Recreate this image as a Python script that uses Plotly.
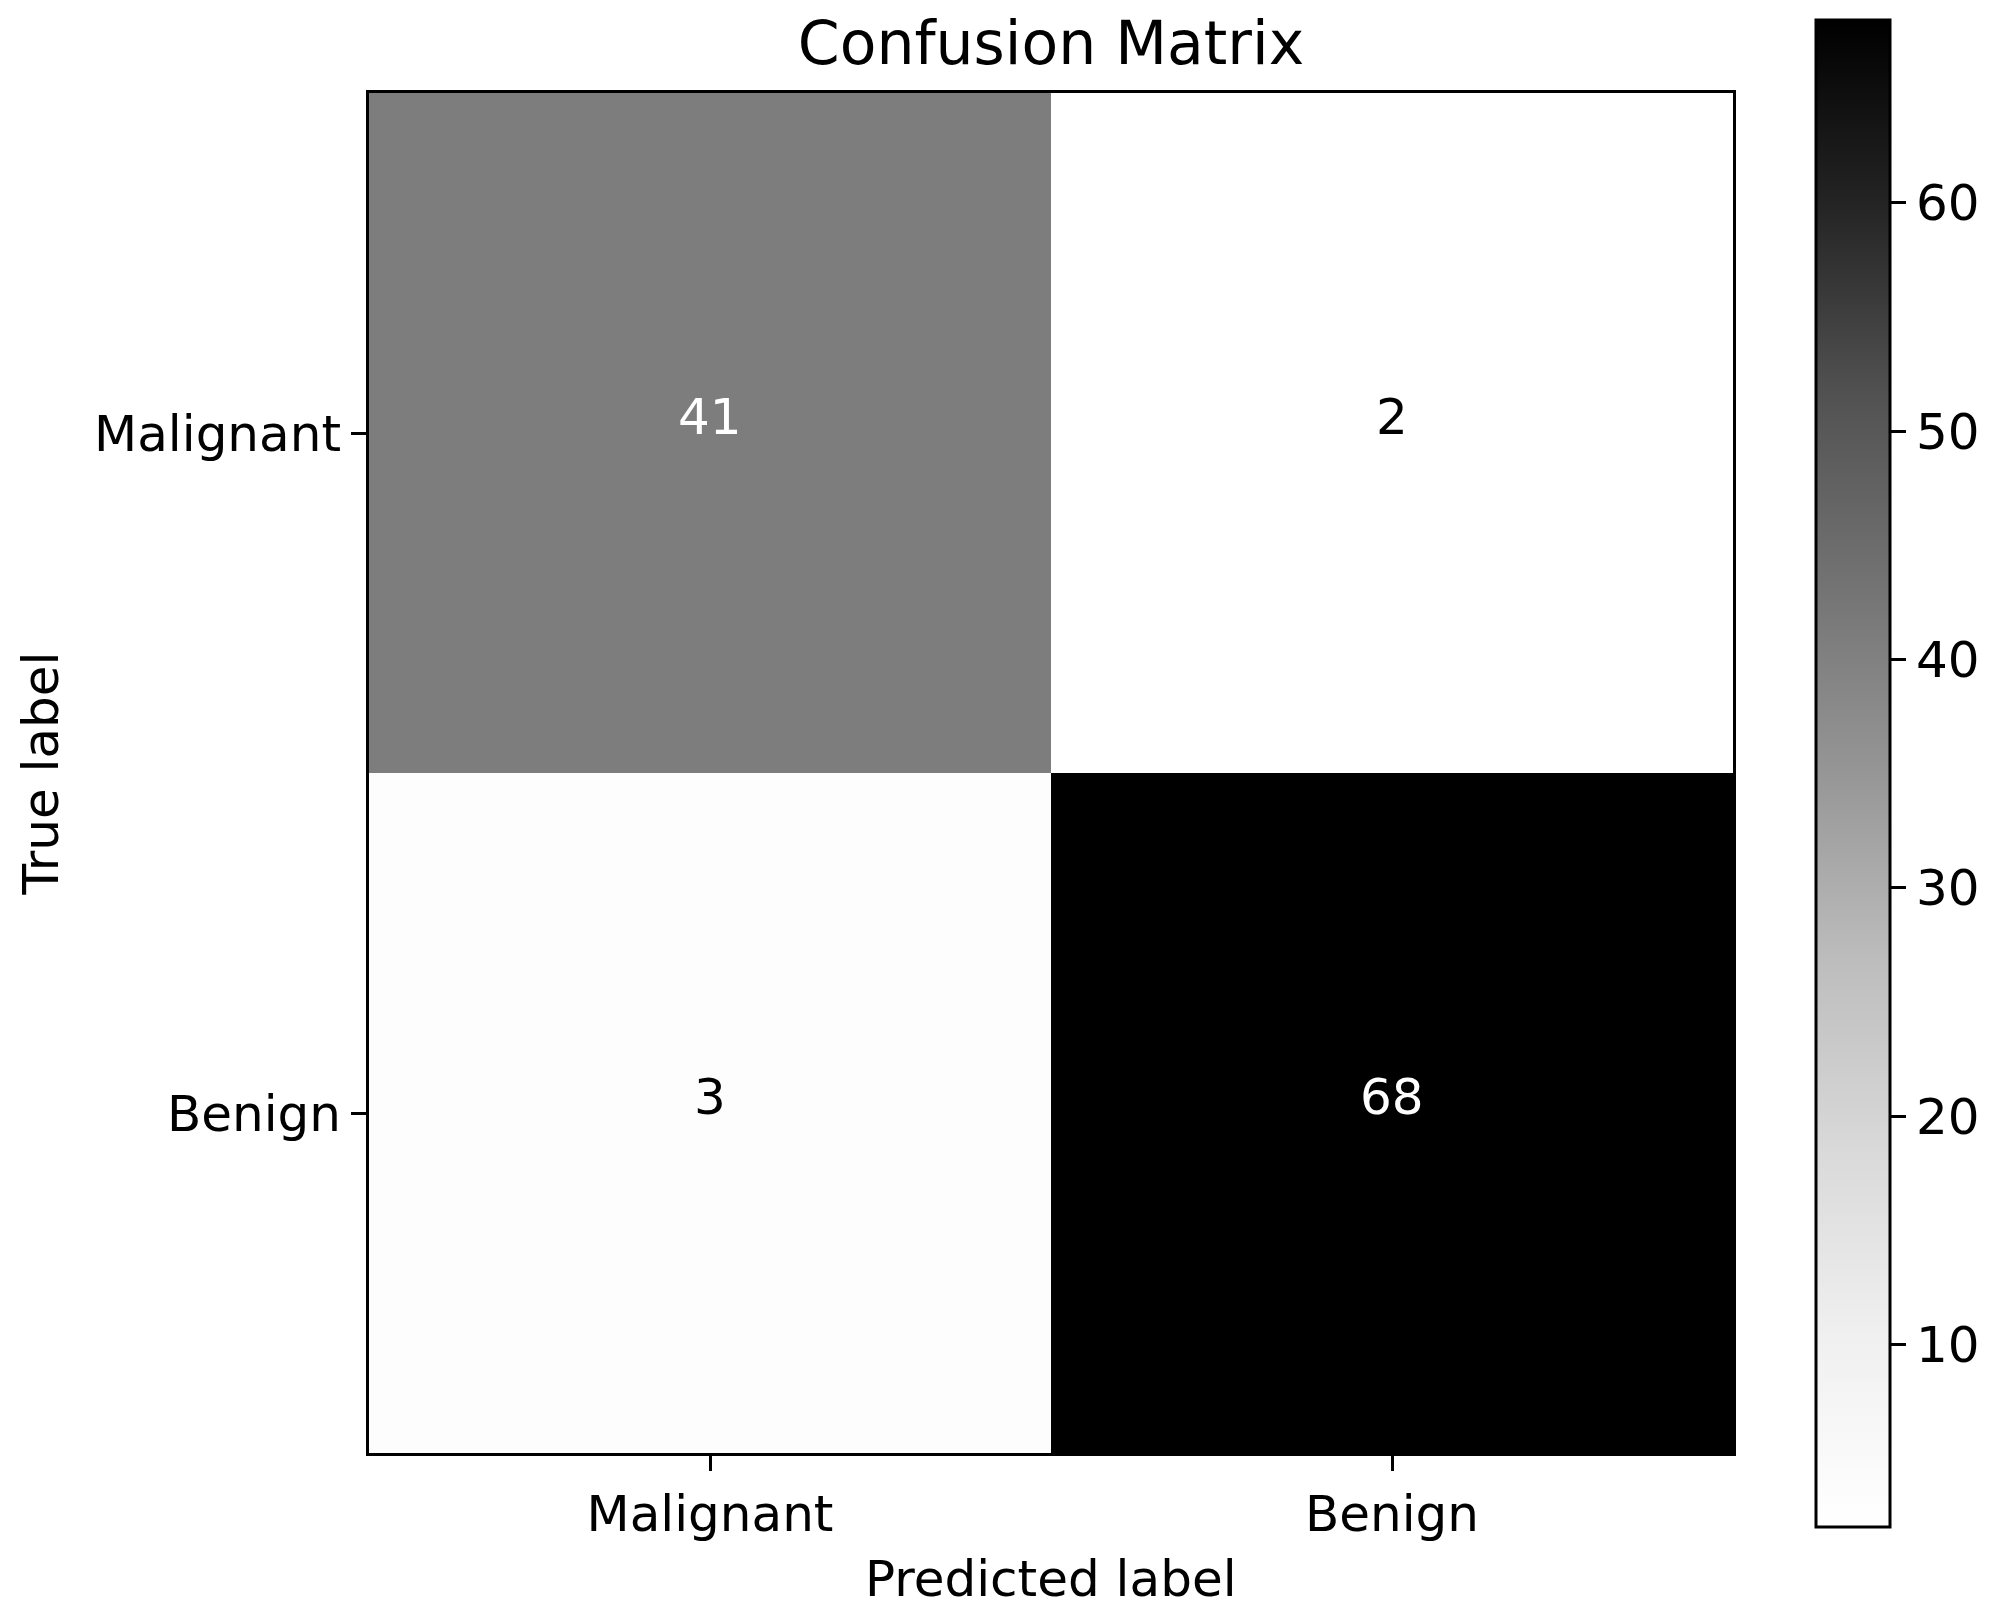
import plotly.graph_objects as go
import plotly.express as px

# Confusion matrix values (rows = true label, cols = predicted label)
labels = ["Malignant", "Benign"]
counts = [[41, 2],
          [3, 68]]
cbar_ticks = [10, 20, 30, 40, 50, 60]

FONT = "DejaVu Sans"
# page body adds an 8px margin, so the figure is a bit smaller than the window
W, H = 1992, 1606
L, R, T, B = 361, 267, 85, 161
plot_h = H - T - B

zmin = min(min(r) for r in counts)
zmax = max(max(r) for r in counts)

fig = go.Figure()

fig.add_trace(go.Heatmap(
    z=counts,
    x=labels,
    y=labels,
    colorscale=px.colors.sequential.Greys,
    zmin=zmin,
    zmax=zmax,
    showscale=True,
    hovertemplate="True: %{y}<br>Predicted: %{x}<br>Count: %{z}<extra></extra>",
    colorbar=dict(
        x=(1808 - L) / (W - L - R),
        xanchor="left",
        y=(H - B - 12) / plot_h,
        yanchor="top",
        lenmode="pixels",
        len=1507,
        thicknessmode="pixels",
        thickness=74,
        outlinewidth=3,
        outlinecolor="black",
        tickvals=cbar_ticks,
        ticks="outside",
        ticklen=15,
        tickwidth=3,
        tickcolor="black",
        tickfont=dict(family=FONT, size=50, color="black"),
        xpad=0,
        ypad=0,
    ),
))

# cell count labels, white on dark cells, black on light ones
mid = (zmin + zmax) / 2
for i, row in enumerate(counts):
    for j, v in enumerate(row):
        fig.add_annotation(
            x=labels[j], y=labels[i], text=str(v), showarrow=False,
            yshift=16,
            font=dict(family=FONT, size=50, color="white" if v > mid else "black"),
        )

# x axis title placed by hand so it does not push the margins
fig.add_annotation(
    text="Predicted label", xref="paper", yref="paper", x=0.5, y=0,
    xanchor="center", yanchor="middle", yshift=-126, showarrow=False,
    font=dict(family=FONT, size=50, color="black"),
)

axis_common = dict(
    showline=True, mirror=True, linecolor="black", linewidth=3,
    ticks="outside", ticklen=15, tickwidth=3, tickcolor="black",
    tickfont=dict(family=FONT, size=50, color="black"),
    showgrid=False, zeroline=False, automargin=False,
)

fig.update_xaxes(**axis_common)
fig.update_yaxes(
    autorange="reversed",
    title=dict(text="True label", font=dict(family=FONT, size=50, color="black"), standoff=20),
    **axis_common,
)

fig.update_layout(
    width=W, height=H,
    margin=dict(l=L, r=R, t=T, b=B),
    paper_bgcolor="white",
    plot_bgcolor="white",
    title=dict(text="Confusion Matrix", x=(L + (W - L - R) / 2) / W, xanchor="center",
               y=1 - 35 / H, yanchor="middle",
               font=dict(family=FONT, size=60, color="black")),
    font=dict(family=FONT, color="black"),
)

fig.write_html("out.html")
